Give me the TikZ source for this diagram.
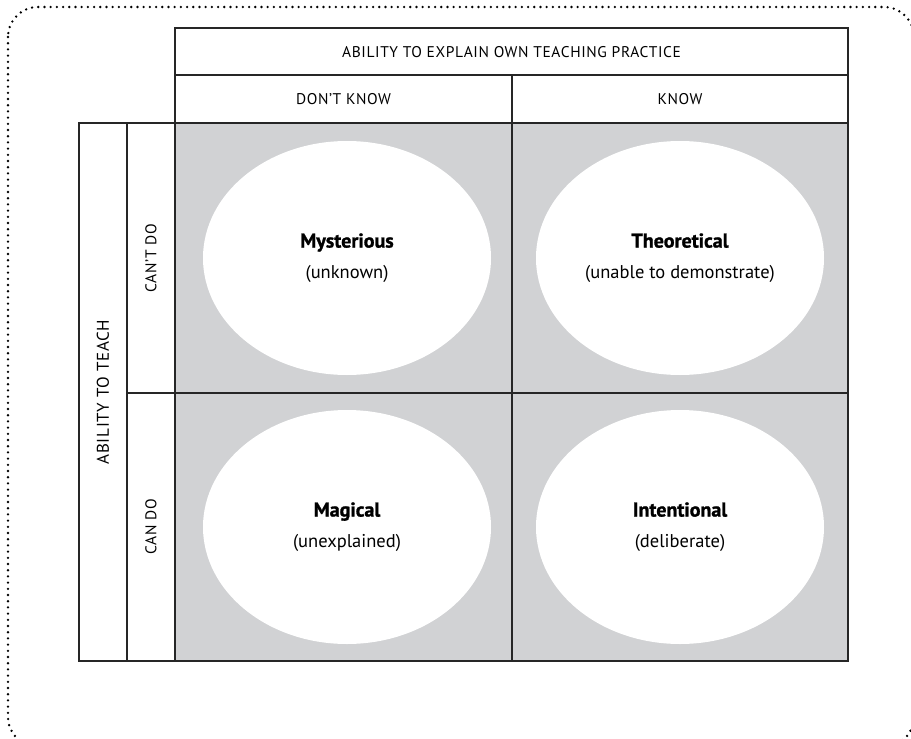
\documentclass[tikz,border=0pt]{standalone}
\usepackage{fontspec}
\setmainfont{PT Sans}
\newfontfamily\capsfont[LetterSpace=4]{PT Sans}
\newfontfamily\titlefont[FakeBold=1.2]{PT Sans Bold}
\usetikzlibrary{shapes.geometric}
\definecolor{cellgrey}{HTML}{D1D2D4}
\tikzset{
  gridline/.style={draw=black!85, line width=1.2pt},
  cell/.style={gridline, fill=cellgrey},
  oval/.style={ellipse, fill=white, minimum width=288pt, minimum height=234pt, inner sep=0pt, align=center, font=\fontsize{18.5}{31}\selectfont},
  headtxt/.style={font=\capsfont\fontsize{15.5}{17}\selectfont},
  dotborder/.style={line width=2.6pt, line cap=round, dash pattern=on 0pt off 6.2pt, rounded corners=30pt},
}
\newcommand{\qtitle}[1]{{\titlefont\fontsize{20}{31}\selectfont #1}}
\begin{document}
\begin{tikzpicture}[x=1pt,y=-1pt]
\useasboundingbox (0,0) rectangle (911,739);
\begin{scope}
\clip (0,0) rectangle (911,739);
\draw[dotborder] (8,7) rectangle (914,747);
\end{scope}
% cells
\path[cell] (175,123) rectangle (512,393);
\path[cell] (512,123) rectangle (848,393);
\path[cell] (175,393) rectangle (512,661);
\path[cell] (512,393) rectangle (848,661);
% header
\draw[gridline] (175,28) rectangle (848,75);
\draw[gridline] (175,75) rectangle (512,123);
\draw[gridline] (512,75) rectangle (848,123);
\draw[gridline] (79,123) rectangle (127,661);
\draw[gridline] (127,123) rectangle (175,393);
\draw[gridline] (127,393) rectangle (175,661);
\node[headtxt] (h1) at (511.5,52) {ABILITY TO EXPLAIN OWN TEACHING PRACTICE};
\node[headtxt] (h2) at (343.5,99.5) {DON’T KNOW};
\node[headtxt] (h3) at (680,99.5) {KNOW};
\node[headtxt, rotate=90, font=\capsfont\fontsize{17}{19}\selectfont] (v1) at (103,392) {ABILITY TO TEACH};
\node[headtxt, rotate=90] (v2) at (151,258) {CAN’T DO};
\node[headtxt, rotate=90] (v3) at (151,527) {CAN DO};
% ovals
\node[oval] (q1) at (347,258) {\qtitle{Mysterious}\\(unknown)};
\node[oval] (q2) at (680,258) {\qtitle{Theoretical}\\(unable to demonstrate)};
\node[oval] (q3) at (347,527) {\qtitle{Magical}\\(unexplained)};
\node[oval] (q4) at (680,527) {\qtitle{Intentional}\\(deliberate)};
\end{tikzpicture}
\end{document}
